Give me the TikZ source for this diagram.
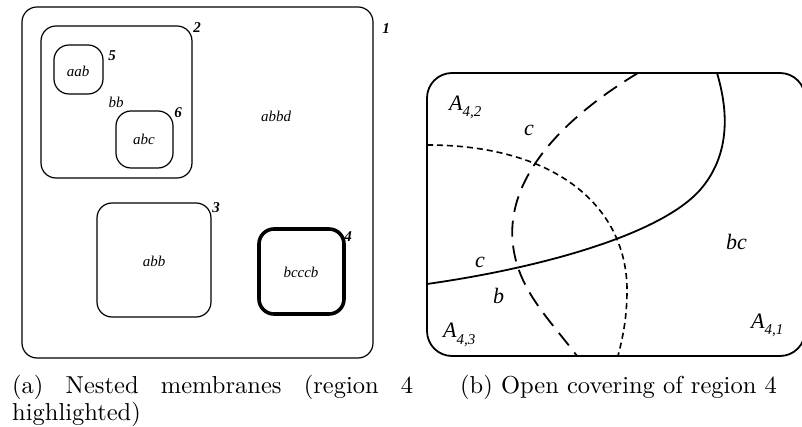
\documentclass[tikz,border=0pt]{standalone}
\usepackage{fontspec}
\newfontfamily\tms{Liberation Serif}
\newfontfamily\capfont{lmroman10-regular}[Extension=.otf]
\begin{document}
\begin{tikzpicture}[x=1pt,y=-1pt,
  memb/.style={draw,line width=1.2pt,rounded corners=15pt},
  hmemb/.style={draw,line width=3.6pt,rounded corners=15pt},
  num/.style={font=\tms\fontsize{15}{15}\selectfont\bfseries\itshape,inner sep=0pt},
  obj/.style={font=\tms\fontsize{15}{15}\selectfont\itshape,inner sep=0pt},
  lab/.style={font=\tms\fontsize{22}{22}\selectfont\itshape,inner sep=0pt,anchor=base west},
  captxt/.style={font=\capfont\fontsize{24.5}{24.5}\selectfont,inner sep=0pt,anchor=base west},
  bline/.style={line width=1.8pt},
  longdash/.style={line width=1.8pt,dash pattern=on 16pt off 9pt},
  shortdash/.style={line width=1.6pt,dash pattern=on 6pt off 4pt}]
\useasboundingbox (0,0) rectangle (802,427);
% panel (a)
\draw[memb] (22,7) rectangle (373,358);
\draw[memb] (41,26) rectangle (192,178);
\draw[memb] (54,45) rectangle (103,94);
\draw[memb] (116,111) rectangle (173,168);
\draw[memb] (97,203) rectangle (211,317);
\draw[hmemb] (259,229) rectangle (344,314);
\node[num] (n1) at (386,29) {1};
\node[num] (n2) at (197,28) {2};
\node[num] (n5) at (112,56) {5};
\node[num] (n6) at (178,113) {6};
\node[num] (n3) at (216,208) {3};
\node[num] (n4) at (348,237) {4};
\node[obj] (o5) at (78,71) {aab};
\node[obj] (o2) at (116,102) {bb};
\node[obj] (o6) at (144,139) {abc};
\node[obj] (o1) at (276,116) {abbd};
\node[obj] (o3) at (154,261) {abb};
\node[obj] (o4) at (301,272) {bcccb};
\node[captxt] (capa1) at (12,393) {\hbox to 401pt{(a)\hfill Nested\hfill membranes\hfill (region\hfill 4}};
\node[captxt] (capa2) at (12,420) {highlighted)};
% panel (b)
\draw[bline,rounded corners=25pt] (427,73) rectangle (805,356);
\draw[bline] (427,284) .. controls (540,268) and (660,235) .. (700,190) .. controls (735,150) and (725,100) .. (717,73);
\draw[longdash] (638,73) .. controls (560,120) and (505,180) .. (513,245) .. controls (518,290) and (550,320) .. (577,356);
\draw[shortdash] (427,145) .. controls (560,145) and (627,210) .. (627,290) .. controls (627,320) and (622,340) .. (618,356);
\node[lab] (a42) at (449,111) {A\raisebox{-6pt}{\fontsize{15}{15}\selectfont 4,2}};
\node[lab] (a43) at (443,337) {A\raisebox{-7pt}{\fontsize{15}{15}\selectfont 4,3}};
\node[lab] (a41) at (751,328) {A\raisebox{-6pt}{\fontsize{15}{15}\selectfont 4,1}};
\node[lab] (cu) at (524,136) {c};
\node[lab] (bc) at (726,250) {bc};
\node[lab] (cl) at (475,268) {c};
\node[lab] (bl) at (493,303) {b};
\node[captxt] (capb) at (460,393) {(b) Open covering of region 4};
\end{tikzpicture}
\end{document}
